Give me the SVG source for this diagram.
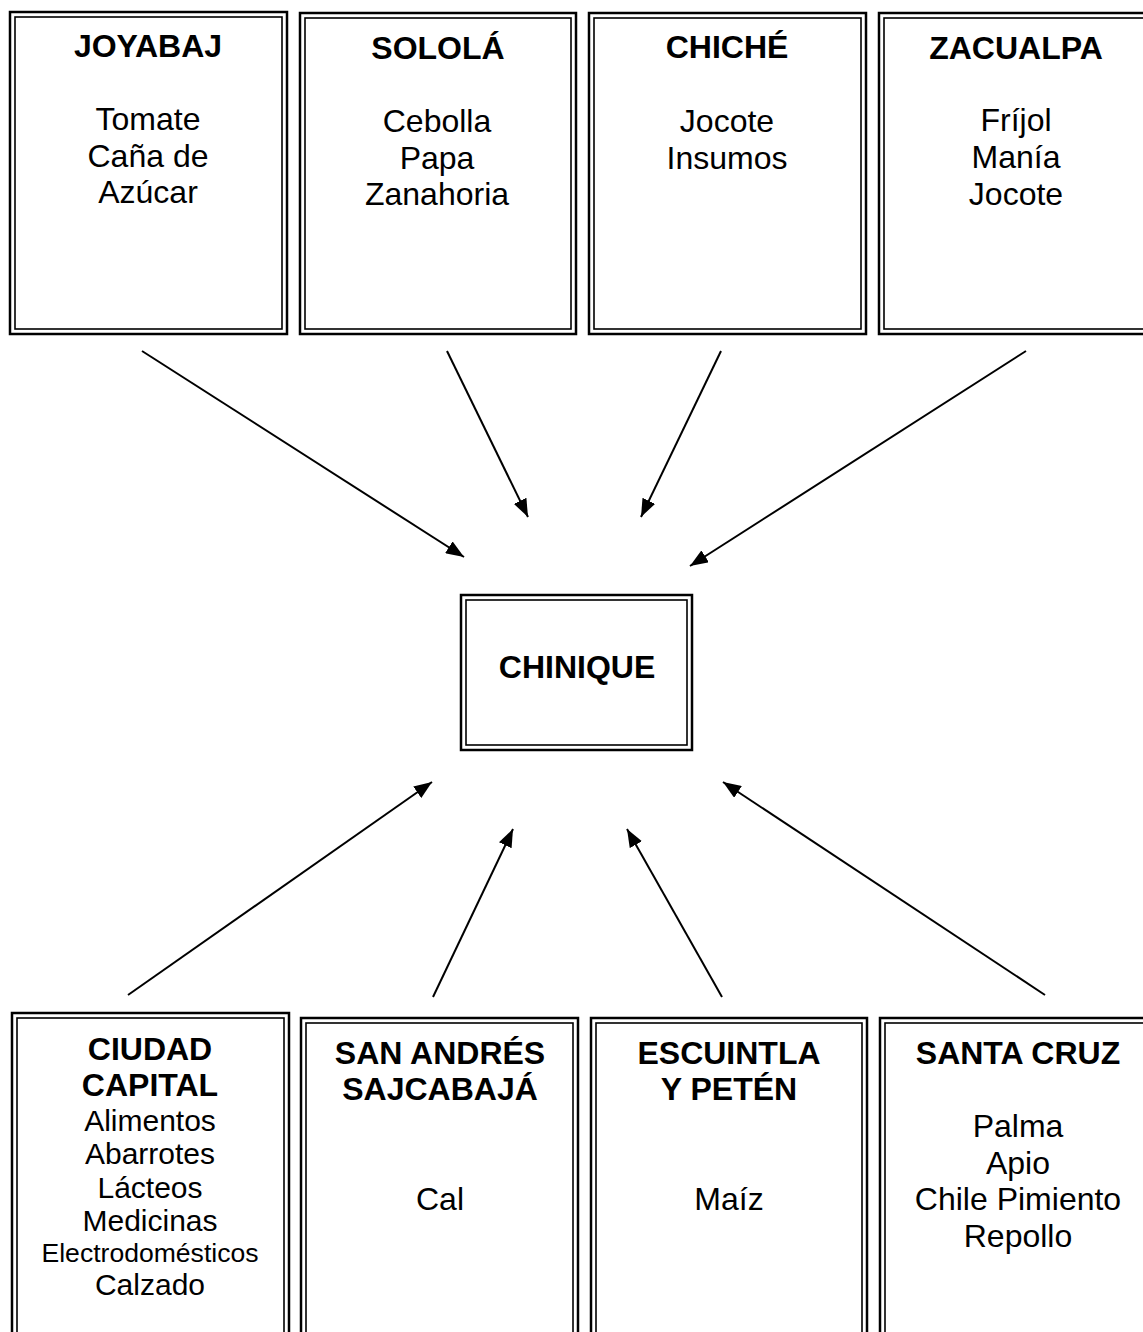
<svg xmlns="http://www.w3.org/2000/svg" width="1143" height="1332" viewBox="0 0 1143 1332">
<style>
.o{fill:none;stroke:#000;stroke-width:2.5}
.i{fill:none;stroke:#000;stroke-width:1.6}
.t{font-family:"Liberation Sans",Arial,sans-serif;font-weight:bold;font-size:32px;text-anchor:middle;fill:#000}
.b{font-family:"Liberation Sans",Arial,sans-serif;font-size:32px;text-anchor:middle;fill:#000}
.s{font-size:30px}
.c line{stroke:#000;stroke-width:2}
</style>
<defs>
<marker id="ah" viewBox="0 0 18 14" refX="18" refY="7" markerWidth="18" markerHeight="14" markerUnits="userSpaceOnUse" orient="auto">
<path d="M0,0 L18,7 L0,14 Z" fill="#000"/>
</marker>
</defs>
<rect width="1143" height="1332" fill="#fff"/>

<g id="joyabaj">
<rect class="o" x="10" y="12" width="277" height="322"/>
<rect class="i" x="15" y="17" width="267" height="312"/>
<text class="t" x="148" y="57">JOYABAJ</text>
<text class="b" x="148" y="130">Tomate</text>
<text class="b" x="148" y="167">Caña de</text>
<text class="b" x="148" y="203">Azúcar</text>
</g>

<g id="solola">
<rect class="o" x="300" y="13" width="276" height="321"/>
<rect class="i" x="305" y="18" width="266" height="311"/>
<text class="t" x="438" y="59">SOLOLÁ</text>
<text class="b" x="437" y="132">Cebolla</text>
<text class="b" x="437" y="169">Papa</text>
<text class="b" x="437" y="205">Zanahoria</text>
</g>

<g id="chiche">
<rect class="o" x="589" y="13" width="277" height="321"/>
<rect class="i" x="594" y="18" width="267" height="311"/>
<text class="t" x="727" y="58">CHICHÉ</text>
<text class="b" x="727" y="132">Jocote</text>
<text class="b" x="727" y="169">Insumos</text>
</g>

<g id="zacualpa">
<rect class="o" x="879" y="13" width="280" height="321"/>
<rect class="i" x="884" y="18" width="270" height="311"/>
<text class="t" x="1016" y="59">ZACUALPA</text>
<text class="b" x="1016" y="131">Fríjol</text>
<text class="b" x="1016" y="168">Manía</text>
<text class="b" x="1016" y="205">Jocote</text>
</g>

<g id="chinique">
<rect class="o" x="461" y="595" width="231" height="155"/>
<rect class="i" x="466" y="600" width="221" height="145"/>
<text class="t" x="577" y="678">CHINIQUE</text>
</g>

<g id="ciudad-capital">
<rect class="o" x="12" y="1013" width="277" height="340"/>
<rect class="i" x="17" y="1018" width="267" height="330"/>
<text class="t" x="150" y="1060">CIUDAD</text>
<text class="t" x="150" y="1096">CAPITAL</text>
<text class="b s" x="150" y="1131">Alimentos</text>
<text class="b s" x="150" y="1164">Abarrotes</text>
<text class="b s" x="150" y="1198">Lácteos</text>
<text class="b s" x="150" y="1231">Medicinas</text>
<text class="b" x="150" y="1262" style="font-size:25px" textLength="217" lengthAdjust="spacingAndGlyphs">Electrodomésticos</text>
<text class="b s" x="150" y="1295">Calzado</text>
</g>

<g id="san-andres">
<rect class="o" x="301" y="1018" width="277" height="340"/>
<rect class="i" x="306" y="1023" width="267" height="330"/>
<text class="t" x="440" y="1064">SAN ANDRÉS</text>
<text class="t" x="440" y="1100">SAJCABAJÁ</text>
<text class="b" x="440" y="1210">Cal</text>
</g>

<g id="escuintla">
<rect class="o" x="591" y="1018" width="276" height="340"/>
<rect class="i" x="596" y="1023" width="266" height="330"/>
<text class="t" x="729" y="1064">ESCUINTLA</text>
<text class="t" x="729" y="1100">Y PETÉN</text>
<text class="b" x="729" y="1210">Maíz</text>
</g>

<g id="santa-cruz">
<rect class="o" x="880" y="1018" width="280" height="340"/>
<rect class="i" x="885" y="1023" width="270" height="330"/>
<text class="t" x="1018" y="1064">SANTA CRUZ</text>
<text class="b" x="1018" y="1137">Palma</text>
<text class="b" x="1018" y="1174">Apio</text>
<text class="b" x="1018" y="1210">Chile Pimiento</text>
<text class="b" x="1018" y="1247">Repollo</text>
</g>

<g id="connectors" class="c">
<line x1="142" y1="351" x2="464" y2="557" marker-end="url(#ah)"/>
<line x1="447" y1="351" x2="528" y2="517" marker-end="url(#ah)"/>
<line x1="721" y1="351" x2="641" y2="517" marker-end="url(#ah)"/>
<line x1="1026" y1="351" x2="690" y2="566" marker-end="url(#ah)"/>
<line x1="128" y1="995" x2="432" y2="782" marker-end="url(#ah)"/>
<line x1="433" y1="997" x2="513" y2="829" marker-end="url(#ah)"/>
<line x1="722" y1="997" x2="627" y2="829" marker-end="url(#ah)"/>
<line x1="1045" y1="995" x2="723" y2="782" marker-end="url(#ah)"/>
</g>
</svg>
